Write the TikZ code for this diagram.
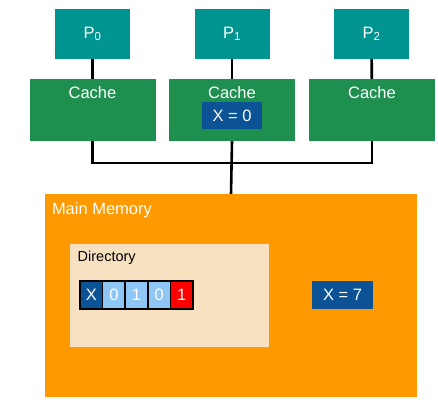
\documentclass[tikz,border=0pt]{standalone}
\usepackage{fontspec}
\setmainfont{Liberation Sans}
\usepackage{xcolor}
\usetikzlibrary{positioning, calc}

\definecolor{proc}{HTML}{009490}
\definecolor{cachegreen}{HTML}{1F8F50}
\definecolor{memorange}{HTML}{FF9900}
\definecolor{dirbeige}{HTML}{F7E1C0}
\definecolor{valblue}{HTML}{0B5394}
\definecolor{bitblue}{HTML}{8EC6F5}
\definecolor{bitred}{HTML}{FF0000}

\begin{document}
\begin{tikzpicture}[x=1pt, y=-1pt, font=\fontsize{16.5}{18}\selectfont,
    procbox/.style = {fill=proc, text=white, minimum width=75pt, minimum height=50pt, inner sep=0pt},
    cachebox/.style = {fill=cachegreen, minimum width=126pt, minimum height=62pt, inner sep=0pt},
    valbox/.style = {fill=valblue, text=white, minimum width=60pt, minimum height=27pt, inner sep=0pt},
    bitcell/.style = {draw=black, line width=1.6pt, text=white, minimum width=22.6pt, minimum height=28pt, inner sep=0pt},
    bus/.style = {line width=2.6pt, black}]
                \useasboundingbox (0,0) rectangle (438,407);
                % Nodes
                \node[procbox] (P0) at (92.5,34) {P\textsubscript{0}};
                \node[procbox] (P1) at (232,34) {P\textsubscript{1}};
                \node[procbox] (P2) at (371.5,34) {P\textsubscript{2}};
                
                \node[cachebox] (C0) at (92.5,110) {};
                \node[cachebox] (C1) at (232,110) {};
                \node[cachebox] (C2) at (372,110) {};
                \node[text=white, anchor=base] (C0t) at ($(C0.north)+(0,19.5)$) {Cache};
                \node[text=white, anchor=base] (C1t) at ($(C1.north)+(0,19.5)$) {Cache};
                \node[text=white, anchor=base] (C2t) at ($(C2.north)+(0,19.5)$) {Cache};
                \node[valbox] (X0) at (232,115.5) {X = 0};
                
                \node[fill=memorange, minimum width=372pt, minimum height=203pt, inner sep=0pt] (mem) at (231,295.5) {};
                \node[text=white, anchor=base west, inner sep=0pt] (memt) at ($(mem.north west)+(7,21)$) {Main Memory};
                \node[fill=dirbeige, minimum width=199pt, minimum height=103pt, inner sep=0pt] (dir) at (169.5,295.5) {};
                \node[anchor=base west, inner sep=0pt, font=\fontsize{14.5}{16}\selectfont] (dirt) at ($(dir.north west)+(7.7,17.7)$) {Directory};
                \node[valbox, minimum width=61pt, minimum height=28pt] (X7) at (342.5,295) {X = 7};
                
                % bit vector
                \foreach \t/\c [count=\i] in {X/valblue, 0/bitblue, 1/bitblue, 0/bitblue, 1/bitred}
                    \node[bitcell, fill=\c] (b\i) at (80+22.6*\i-11.3,295) {\t};
                
                % Lines
                \coordinate (bus) at (232,163);
                \draw[bus] (P0) -- (C0);
                \draw[bus] (P1) -- (C1);
                \draw[bus] (P2) -- (C2);
                \draw[bus] (C0.south) |- (bus) -| (C2.south);
                \draw[bus] (C1.south) -- (mem.north);
                
            \end{tikzpicture}
\end{document}
